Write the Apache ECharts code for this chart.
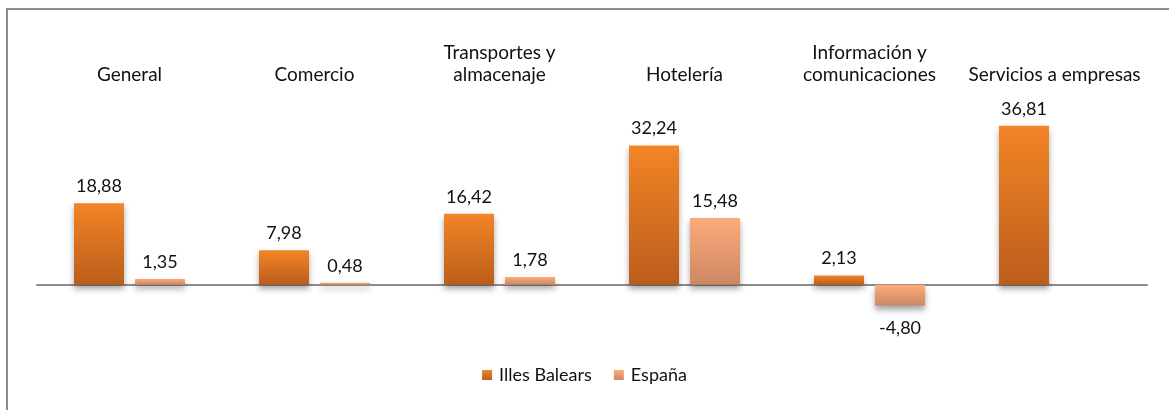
<!DOCTYPE html>
<html>
<head>
<meta charset="utf-8">
<style>
  html, body { margin: 0; padding: 0; background: #fff; }
  #chart { width: 1169px; height: 410px; }
</style>
<script src="https://cdn.jsdelivr.net/npm/echarts@6/dist/echarts.min.js"></script>
</head>
<body>
<div id="chart"></div>
<script>
  // sectores y valores (%)
  var categories = ['General', 'Comercio', 'Transportes y\nalmacenaje', 'Hotelería', 'Información y\ncomunicaciones', 'Servicios a empresas'];
  var balears = [18.88, 7.98, 16.42, 32.24, 2.13, 36.81];
  var espana = [1.35, 0.48, 1.78, 15.48, -4.80, null];
  var seriesNames = ['Illes Balears', 'España'];

  var FONT = 'Lato, "Open Sans", sans-serif';

  function grad(top, bottom) {
    return new echarts.graphic.LinearGradient(0, 0, 0, 1, [
      { offset: 0, color: top },
      { offset: 1, color: bottom }
    ]);
  }

  function fmt(p) {
    return p.value == null ? '' : p.value.toFixed(2).replace('.', ',');
  }

  function toData(arr) {
    return arr.map(function(v) {
      return {
        value: v,
        label: v < 0 ? { position: 'bottom', distance: 14 } : { position: 'top' }
      };
    });
  }

  var barBase = {
    type: 'bar',
    barWidth: 50,
    barGap: '22%',
    label: {
      show: true,
      formatter: fmt,
      color: '#111',
      fontFamily: FONT,
      fontSize: 18,
      distance: 8
    }
  };

  var chart = echarts.init(document.getElementById('chart'));
  chart.setOption({
    animation: false,
    textStyle: { fontFamily: FONT },
    graphic: [{
      type: 'rect',
      shape: { x: 7, y: 9, width: 1300, height: 600 },
      style: { fill: 'none', stroke: '#8c8c8c', lineWidth: 2 },
      z: 100
    }],
    legend: {
      bottom: 21,
      left: 'center',
      itemWidth: 10,
      itemHeight: 10,
      itemGap: 22,
      icon: 'rect',
      textStyle: { fontFamily: FONT, fontSize: 18, color: '#111', padding: [0, 0, 0, 2] },
      data: seriesNames
    },
    grid: { left: 37, right: 22, top: 112, height: 216 },
    xAxis: [{
      type: 'category',
      data: categories,
      axisLine: { onZero: true, lineStyle: { color: '#8c8c8c', width: 2 } },
      axisTick: { show: false },
      axisLabel: { show: false }
    }, {
      type: 'category',
      data: categories,
      position: 'top',
      axisLine: { show: false },
      axisTick: { show: false },
      axisLabel: {
        margin: 26,
        color: '#111',
        fontFamily: FONT,
        fontSize: 19,
        lineHeight: 22,
        interval: 0
      }
    }],
    yAxis: {
      type: 'value',
      min: -10,
      max: 40,
      show: false,
      splitLine: { show: false }
    },
    series: [
      echarts.util.merge({
        name: seriesNames[0],
        data: toData(balears),
        itemStyle: {
          color: grad('#f28526', '#bb5d1c'),
          shadowColor: 'rgba(0,0,0,0.35)',
          shadowBlur: 6,
          shadowOffsetY: 4
        }
      }, barBase, false),
      echarts.util.merge({
        name: seriesNames[1],
        data: toData(espana),
        itemStyle: {
          color: grad('#fdab7a', '#cc8763'),
          shadowColor: 'rgba(0,0,0,0.35)',
          shadowBlur: 6,
          shadowOffsetY: 4
        }
      }, barBase, false)
    ]
  });
</script>
</body>
</html>
